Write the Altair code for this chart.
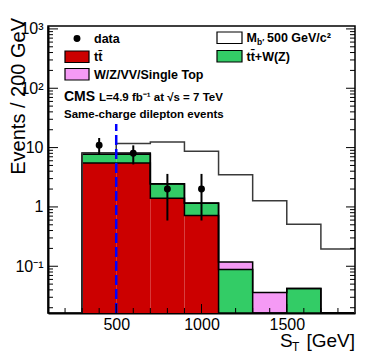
import altair as alt
import pandas as pd

# ---------------- data ----------------
edges = [300, 500, 700, 900, 1100, 1300, 1500, 1700, 1900]
ttbar = [5.5, 5.5, 1.40, 0.715, 0.0, 0.0, 0.0, 0.0]
ttv = [2.2, 2.2, 1.03, 0.435, 0.088, 0.0, 0.042, 0.0]
ewk = [0.4, 0.4, 0.02, 0.01, 0.030, 0.036, 0.0, 0.0]
signal = [0.0, 3.6, 10.0, 7.55, 3.38, 1.24, 0.47, 0.195]

data_x = [400, 600, 800, 1000]
data_y = [11, 8, 2, 2]
data_lo = [7.7, 5.2, 0.59, 0.59]
data_hi = [14.5, 10.9, 3.6, 3.6]

mass_x = [500]
mass_top = [25]

x_tick_major = [500, 1000, 1500]
x_tick_minor = [200, 300, 400, 600, 700, 800, 900, 1100, 1200, 1300, 1400, 1600, 1700, 1800]
y_tick_major = [0.1, 1, 10, 100, 1000]
y_tick_text = ["10⁻¹", "1", "10", "10²", "10³"]
y_minor_mult = [2, 3, 4, 5, 6, 7, 8, 9]
y_decades = [0.01, 0.1, 1, 10, 100]

FLOOR = 0.0163
YMAX = 1120
W, H = 307, 287
FONT = "Liberation Sans"

names = ["ttbar", "ttv", "ewk", "signal"]
colors = ["#cc0000", "#33cc66", "#f59af5", "#ffffff"]

xscale = alt.Scale(domain=[100, 1900], nice=False, zero=False)
yscale = alt.Scale(type="log", domain=[FLOOR, YMAX], nice=False)

# ---------------- derived tables ----------------
comps = [ttbar, ttv, ewk]
cum = []
run = [0.0] * len(ttbar)
for c in comps:
    run = [a + b for a, b in zip(run, c)]
    cum.append(run)
cum_sig = [a + b for a, b in zip(cum[-1], signal)]

rect_rows = []
for k, c in enumerate(comps):
    for i, v in enumerate(c):
        if v <= 0:
            continue
        bottom = cum[k - 1][i] if k > 0 else 0.0
        rect_rows.append({"comp": names[k], "x": edges[i], "x2": edges[i + 1],
                          "top": cum[k][i], "bottom": max(bottom, FLOOR)})
rect_df = pd.DataFrame(rect_rows)


def outline(values, tag):
    rows = [{"g": tag, "i": 0, "x": edges[0], "y": FLOOR}]
    for i, v in enumerate(values):
        rows.append({"g": tag, "i": i + 1, "x": edges[i], "y": max(v, FLOOR)})
    rows.append({"g": tag, "i": len(values) + 1, "x": edges[-1], "y": max(values[-1], FLOOR)})
    rows.append({"g": tag, "i": len(values) + 2, "x": edges[-1], "y": FLOOR})
    return rows


out_rows = []
for k, c in enumerate(cum):
    out_rows += outline(c, names[k])
out_df = pd.DataFrame(out_rows)
sig_df = pd.DataFrame(outline(cum_sig, "signal"))

pts_df = pd.DataFrame({"x": data_x, "y": data_y, "lo": data_lo, "hi": data_hi})
mass_df = pd.DataFrame({"x": mass_x, "y": [FLOOR], "y2": mass_top})

y_minor = [m * d for d in y_decades for m in y_minor_mult if FLOOR <= m * d <= YMAX]
ymaj_df = pd.DataFrame({"v": y_tick_major})
ymin_df = pd.DataFrame({"v": y_minor})
xmaj_df = pd.DataFrame({"v": x_tick_major})
xmin_df = pd.DataFrame({"v": x_tick_minor})

label_expr = " : ".join(
    [f"datum.value > {v * 0.5} && datum.value < {v * 2} ? '{t}'" for v, t in zip(y_tick_major, y_tick_text)]
) + " : ''"

x_axis = alt.Axis(values=x_tick_major, ticks=False, grid=False, domain=True, domainWidth=2,
                  domainColor="black", labelFont=FONT, labelFontSize=16, labelColor="black",
                  labelBaseline="alphabetic", labelPadding=16, title="", format="d")
y_axis = alt.Axis(values=y_tick_major, ticks=False, grid=False, domain=True, domainWidth=2,
                  domainColor="black", labelFont=FONT, labelFontSize=16, labelColor="black",
                  labelPadding=5, labelExpr=label_expr, title="")

# ---------------- layers ----------------
bars = alt.Chart(rect_df).mark_rect(clip=True, strokeWidth=0).encode(
    x=alt.X("x:Q", scale=xscale, axis=x_axis),
    x2="x2:Q",
    y=alt.Y("top:Q", scale=yscale, axis=y_axis),
    y2="bottom:Q",
    color=alt.Color("comp:N", scale=alt.Scale(domain=names, range=colors), legend=None),
)

outlines = alt.Chart(out_df).mark_line(interpolate="step-after", clip=True, color="black",
                                       strokeWidth=1.5).encode(
    x=alt.X("x:Q", scale=xscale), y=alt.Y("y:Q", scale=yscale),
    detail="g:N", order="i:Q")

sig_line = alt.Chart(sig_df).mark_line(interpolate="step-after", clip=True, color="#3a3a3a",
                                       strokeWidth=1.5).encode(
    x=alt.X("x:Q", scale=xscale), y=alt.Y("y:Q", scale=yscale), order="i:Q")

mass = alt.Chart(mass_df).mark_rule(color="#0000ff", strokeWidth=2.5, strokeDash=[10, 4],
                                    clip=True).encode(
    x=alt.X("x:Q", scale=xscale), y=alt.Y("y:Q", scale=yscale), y2="y2:Q")

err = alt.Chart(pts_df).mark_rule(color="black", strokeWidth=2, clip=True).encode(
    x=alt.X("x:Q", scale=xscale), y=alt.Y("lo:Q", scale=yscale), y2="hi:Q")
pts = alt.Chart(pts_df).mark_point(filled=True, size=48, color="black", opacity=1).encode(
    x=alt.X("x:Q", scale=xscale), y=alt.Y("y:Q", scale=yscale))


def ytick(df, x0, x1):
    return alt.Chart(df).mark_rule(color="black", strokeWidth=1).encode(
        y=alt.Y("v:Q", scale=yscale), x=alt.value(x0), x2=alt.value(x1))


def xtick(df, length):
    return alt.Chart(df).mark_rule(color="black", strokeWidth=1).encode(
        x=alt.X("v:Q", scale=xscale), y=alt.value(H), y2=alt.value(H - length))


ticks = [ytick(ymaj_df, 0, 10), ytick(ymin_df, 0, 5), ytick(ymaj_df, W, W - 9), ytick(ymin_df, W, W - 5),
         xtick(xmaj_df, 9), xtick(xmin_df, 5)]

ONE = pd.DataFrame({"a": [0]})


def txt(s, x, y, size, weight="bold", align="left", baseline="middle", angle=0):
    kw = dict(text=s, font=FONT, fontSize=size, fontWeight=weight, align=align,
              baseline=baseline, color="black")
    if angle:
        kw["angle"] = angle
    return alt.Chart(ONE).mark_text(**kw).encode(x=alt.value(x), y=alt.value(y))


def box(x0, x1, y0, y1, fill):
    return alt.Chart(ONE).mark_rect(fill=fill, stroke="black", strokeWidth=1.2).encode(
        x=alt.value(x0), x2=alt.value(x1), y=alt.value(y0), y2=alt.value(y1))


dot = alt.Chart(ONE).mark_point(filled=True, size=48, color="black", opacity=1).encode(
    x=alt.value(29), y=alt.value(12.5))

legend = [
    dot, txt("data", 46, 12.5, 12.5),
    box(17, 41, 25, 36.5, colors[0]), txt("tt\u0304", 46, 31, 12.5),
    box(17, 41, 42.5, 54, colors[2]), txt("W/Z/VV/Single Top", 46, 48.5, 12.5),
    box(169, 194, 6, 17.5, "#ffffff"), txt("M", 198.5, 12, 12.5),
    txt("b\u2032", 209, 15.5, 8.5), txt("500 GeV/c²", 219, 12, 12.5),
    box(169, 194, 24.5, 36, colors[1]), txt("tt\u0304+W(Z)", 198.5, 30.5, 12.5),
    txt("CMS", 16, 75, 14, baseline="alphabetic"),
    txt("L=4.9 fb⁻¹ at √s = 7 TeV", 51, 75, 11.5, baseline="alphabetic"),
    txt("Same-charge dilepton events", 16, 92, 11.5, baseline="alphabetic"),
    # axis titles
    txt("Events / 200 GeV", -23, -8, 20, weight="normal", align="right",
        baseline="alphabetic", angle=270),
    txt("S", 232, 321, 19, weight="normal", baseline="alphabetic"),
    txt("T", 244, 325, 12, weight="normal", baseline="alphabetic"),
    txt("[GeV]", W, 321, 19, weight="normal", align="right", baseline="alphabetic"),
]

chart = alt.layer(bars, outlines, sig_line, mass, err, pts, *ticks, *legend).properties(
    width=W, height=H,
    autosize=alt.AutoSizeParams(type="none"),
    padding={"left": 40, "top": 18, "right": 11, "bottom": 46},
).configure_view(stroke="black", strokeWidth=1.5)

chart.save("out.html", embed_options={"renderer": "svg", "actions": False})
